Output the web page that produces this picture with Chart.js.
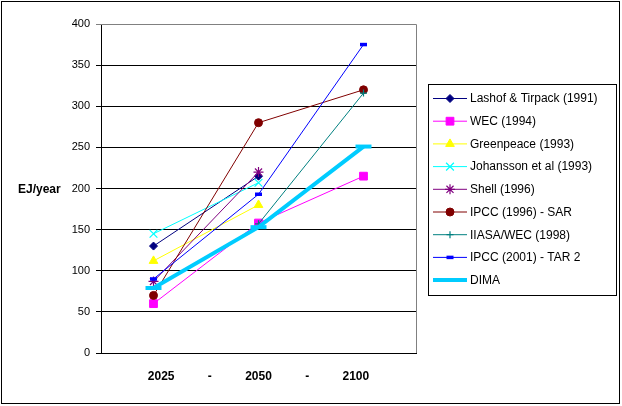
<!DOCTYPE html>
<html>
<head>
<meta charset="utf-8">
<script src="https://cdn.jsdelivr.net/npm/chart.js@4/dist/chart.umd.min.js"></script>
<style>
  html, body { margin: 0; padding: 0; background: #fff; }
  canvas { display: block; }
</style>
</head>
<body>
<canvas id="c" width="622" height="406"></canvas>
<script>
// Primary energy demand scenarios, EJ/year
const years = ['2025', '2050', '2100'];
const lashofTirpack = [130, 215, null];
const wec = [60, 158, 215];
const greenpeace = [112, 180, null];
const johansson = [145, 207, null];
const shell = [87, 220, null];
const ipccSar = [70, 280, 320];
const iiasaWec = [null, 157, 316];
const ipccTar = [90, 193, 375];
const dima = [79, 153, 251];

const yMin = 0, yMax = 400, yStep = 50;
const yTitle = 'EJ/year';
const xTitle = years.join('          -          ');

const FONT = '"Liberation Sans", Arial, sans-serif';

const series = [
  { label: 'Lashof & Tirpack (1991)', data: lashofTirpack, color: '#000080', style: 'rectRot', r: 4, bw: 1, lw: 1 },
  { label: 'WEC (1994)', data: wec, color: '#FF00FF', style: 'rect', r: 5.5, bw: 1, lw: 1 },
  { label: 'Greenpeace (1993)', data: greenpeace, color: '#FFFF00', style: 'triangle', r: 5, bw: 1, lw: 1 },
  { label: 'Johansson et al (1993)', data: johansson, color: '#00FFFF', style: 'crossRot', r: 5.5, bw: 1.2, lw: 1 },
  { label: 'Shell (1996)', data: shell, color: '#800080', style: 'star', r: 5, bw: 1.2, lw: 1 },
  { label: 'IPCC (1996) - SAR', data: ipccSar, color: '#800000', style: 'circle', r: 4, bw: 1, lw: 1 },
  { label: 'IIASA/WEC (1998)', data: iiasaWec, color: '#008080', style: 'cross', r: 3.5, bw: 1.2, lw: 1 },
  { label: 'IPCC (2001) - TAR 2', data: ipccTar, color: '#0000FF', style: 'line', r: 3.5, bw: 3.5, lw: 1 },
  { label: 'DIMA', data: dima, color: '#00CCFF', style: 'line', r: 8, bw: 4, lw: 4 }
];

const datasets = series.map((s, i) => ({
  label: s.label,
  data: s.data,
  borderColor: s.color,
  backgroundColor: s.color,
  borderWidth: s.lw,
  pointStyle: s.style,
  pointRadius: s.r,
  pointHoverRadius: s.r,
  pointBorderWidth: s.bw,
  pointBackgroundColor: s.color,
  pointBorderColor: s.color,
  tension: 0,
  order: series.length - i
}));

// Frame, axis title and boxed legend with line+marker samples
const decorations = {
  id: 'decorations',
  afterDraw(chart) {
    const ctx = chart.ctx;
    const a = chart.chartArea;
    ctx.save();

    // grey plot frame on top and right
    ctx.strokeStyle = '#808080';
    ctx.lineWidth = 1;
    ctx.beginPath();
    ctx.moveTo(a.left, a.top + 0.5);
    ctx.lineTo(a.right + 0.5, a.top + 0.5);
    ctx.lineTo(a.right + 0.5, a.bottom);
    ctx.stroke();

    // vertical axis caption
    ctx.fillStyle = '#000';
    ctx.font = 'bold 12px ' + FONT;
    ctx.textAlign = 'left';
    ctx.textBaseline = 'middle';
    ctx.fillText(yTitle, 18, (a.top + a.bottom) / 2 + 1);

    // legend box
    const lx = 428.5, ly = 84.5, lw = 188, lh = 211;
    ctx.strokeStyle = '#000';
    ctx.lineWidth = 1;
    ctx.strokeRect(lx, ly, lw, lh);

    ctx.font = '12px ' + FONT;
    series.forEach((s, i) => {
      const y = 98.5 + i * 22.7;
      ctx.strokeStyle = s.color;
      ctx.fillStyle = s.color;
      ctx.lineWidth = s.lw;
      ctx.beginPath();
      ctx.moveTo(433, y);
      ctx.lineTo(467, y);
      ctx.stroke();
      if (s.label !== 'DIMA' && Chart.helpers && Chart.helpers.drawPoint) {
        ctx.lineWidth = s.bw;
        Chart.helpers.drawPoint(ctx, { pointStyle: s.style, rotation: 0, radius: s.r, borderWidth: s.bw }, 450, y);
      }
      ctx.fillStyle = '#000';
      ctx.fillText(s.label, 470, y + 0.5);
    });

    // outer border
    ctx.strokeStyle = '#000';
    ctx.lineWidth = 1;
    ctx.strokeRect(1.5, 1.5, 618, 402);
    ctx.restore();
  }
};

new Chart(document.getElementById('c'), {
  type: 'line',
  data: { labels: years, datasets },
  options: {
    responsive: false,
    animation: false,
    events: [],
    layout: { padding: { top: 24, right: 206, bottom: 0, left: 0 } },
    plugins: { legend: { display: false }, tooltip: { enabled: false } },
    scales: {
      x: {
        type: 'category',
        offset: true,
        grid: { display: false },
        border: { display: true, color: '#000', width: 1 },
        ticks: { display: false },
        title: {
          display: true,
          text: xTitle,
          color: '#000',
          font: { family: FONT, size: 12, weight: 'bold' },
          padding: { top: 0, bottom: 22 }
        },
        afterFit(scale) { scale.height = 53; }
      },
      y: {
        min: yMin,
        max: yMax,
        ticks: {
          stepSize: yStep,
          color: '#000',
          padding: 6,
          font: { family: FONT, size: 11 }
        },
        grid: {
          color: (c) => (c.tick && c.tick.value === yMax ? '#808080' : '#000'),
          lineWidth: 1,
          tickLength: 5,
          drawTicks: true
        },
        border: { display: true, color: '#000', width: 1 },
        afterFit(scale) { scale.width = 101; }
      }
    }
  },
  plugins: [decorations]
});
</script>
</body>
</html>
